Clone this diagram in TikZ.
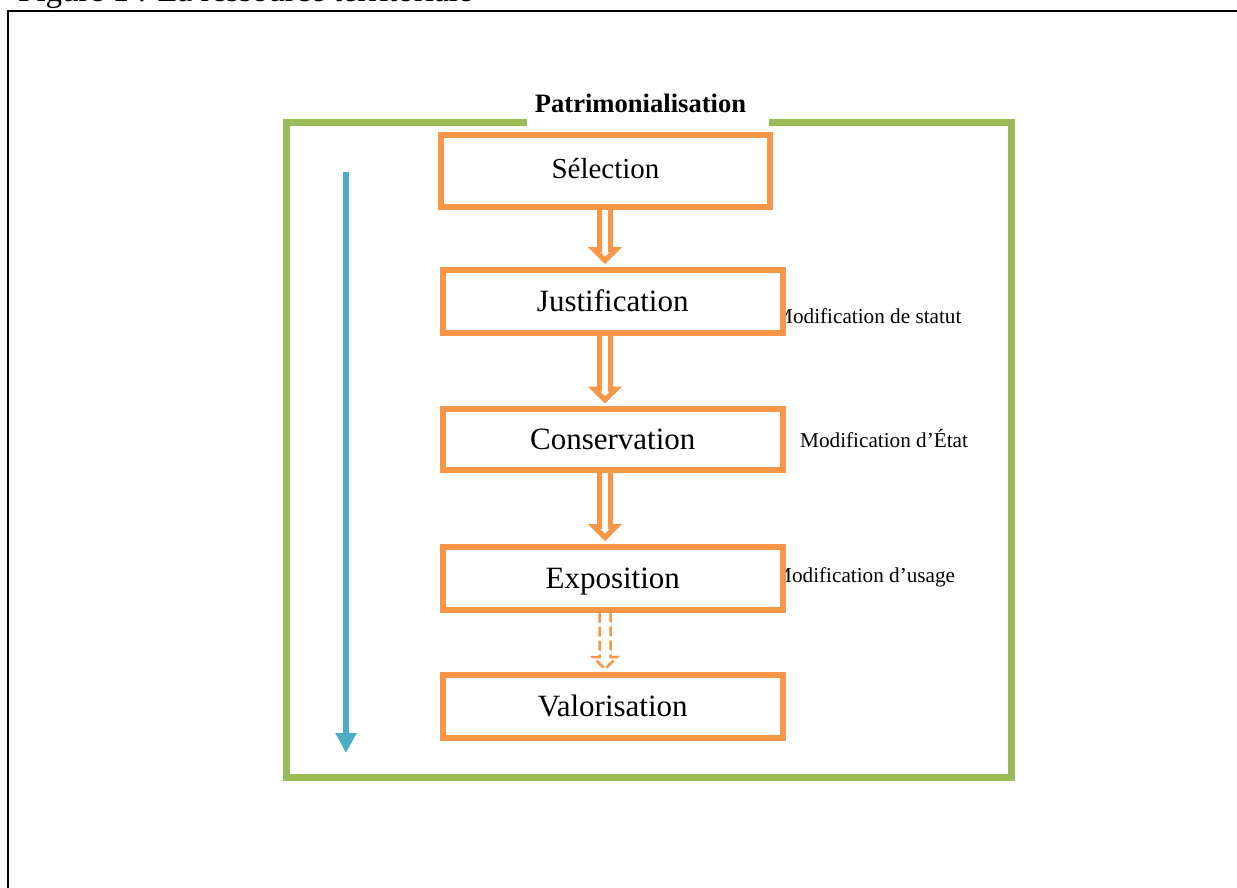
\documentclass[tikz,border=0pt]{standalone}
\usepackage{fontspec}
\setmainfont{Liberation Serif}
\usetikzlibrary{arrows.meta,calc}
\definecolor{boxorange}{HTML}{F79646}
\definecolor{framegreen}{HTML}{9BBB59}
\definecolor{flowblue}{HTML}{4BACC6}
\begin{document}
\begin{tikzpicture}[x=1pt,y=-1pt,
  stagebox/.style={draw=boxorange, line width=6pt, fill=white, inner sep=0pt,
    minimum width=340.5pt, minimum height=63pt, text height=20.5pt, text depth=0pt,
    font=\fontsize{31}{36}\selectfont},
  sidelabel/.style={anchor=base west, inner sep=0pt, font=\fontsize{21.2}{25}\selectfont},
  hollowarrow/.style={draw=boxorange, line width=5pt, line join=miter},
  dashedarrow/.style={draw=boxorange, line width=2.5pt, line join=miter,
    dash pattern=on 10pt off 4pt},
  greenframe/.style={draw=framegreen, line width=7pt, line join=miter},
  timeline/.style={draw=flowblue, line width=6pt, -{Triangle[length=20pt,width=20pt]}}]
\useasboundingbox (0,0) rectangle (1237,888);
\clip (0,0) rectangle (1237,888);

% caption and outer frame
\node[anchor=base west, inner sep=0pt, font=\fontsize{33}{40}\selectfont] (caption) at (18,2)
  {Figure 1 : La ressource territoriale};
\coordinate (fbl) at (8,900);
\coordinate (ftl) at (8,11);
\coordinate (ftr) at (1250,11);
\draw[line width=2.5pt, line join=miter] (fbl) -- (ftl) -- (ftr);

% title and green frame
\node[inner sep=0pt, anchor=base, font=\bfseries\fontsize{26.6}{30}\selectfont] (title) at (640.5,113)
  {Patrimonialisation};
\coordinate (gl) at (527,122.5);
\coordinate (gtl) at (286,122.5);
\coordinate (gbl) at (286,777);
\coordinate (gbr) at (1011,777);
\coordinate (gtr) at (1011,122.5);
\coordinate (gr) at (769,122.5);
\draw[greenframe] (gl) -- (gtl) -- (gbl) -- (gbr) -- (gtr) -- (gr);

% blue timeline arrow
\coordinate (ts) at (346,172);
\coordinate (te) at (346,753);
\draw[timeline] (ts) -- (te);

% side labels
\node[sidelabel] (lstat) at (774,323) {Modification de statut};
\node[sidelabel] (letat) at (800,447) {Modification d’État};
\node[sidelabel] (lusage) at (773,582) {Modification d’usage};

% stages
\node[stagebox, minimum width=329pt, minimum height=71pt, text height=15pt,
  font=\fontsize{29}{34}\selectfont] (sel) at (605.5,171) {Sélection};
\node[stagebox] (jus) at (612.75,301) {Justification};
\node[stagebox, minimum height=61pt] (con) at (612.75,439.5) {Conservation};
\node[stagebox] (expo) at (612.75,578) {Exposition};
\node[stagebox] (val) at (612.75,706.5) {Valorisation};

% hollow arrows between stages, drawn as outlined arrow shapes
\foreach \a/\b in {sel/jus, jus/con, con/expo} {
  \coordinate (s) at (\a.south -| 605,0);
  \coordinate (e) at ($(\b.north -| 605,0)+(0,-6)$);
  \draw[hollowarrow] ($(s)+(-5.5,0)$) -- ($(e)+(-5.5,-11)$) -- ($(e)+(-11,-11)$) -- (e)
    -- ($(e)+(11,-11)$) -- ($(e)+(5.5,-11)$) -- ($(s)+(5.5,0)$);
}
\coordinate (ds) at (expo.south -| 605,0);
\coordinate (de) at ($(val.north -| 605,0)+(0,-3)$);
\draw[dashedarrow] ($(ds)+(-5.5,0)$) -- ($(de)+(-5.5,-12)$) -- ($(de)+(-12,-12)$) -- (de)
  -- ($(de)+(12,-12)$) -- ($(de)+(5.5,-12)$) -- ($(ds)+(5.5,0)$);
\end{tikzpicture}
\end{document}
